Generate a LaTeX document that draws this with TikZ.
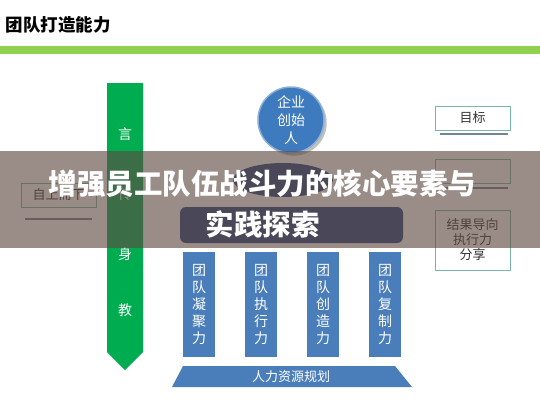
\documentclass[tikz,border=0pt]{standalone}
\usepackage{fontspec}
\setmainfont{Noto Sans CJK SC}
\usetikzlibrary{shadows}
\definecolor{barGreen}{RGB}{146,208,80}
\definecolor{arrowGreen}{RGB}{0,172,80}
\definecolor{colBlue}{RGB}{74,126,187}
\definecolor{circBlue}{RGB}{62,122,190}
\definecolor{deepBlue}{RGB}{40,70,130}
\definecolor{boxTeal}{RGB}{120,185,165}
\definecolor{lineGray}{RGB}{120,132,150}
\definecolor{veil}{RGB}{95,73,65}
\tikzset{
  column/.style = {fill=colBlue, text=white, minimum width=32pt, minimum height=105pt,
    align=center, font=\fontsize{14}{17}\selectfont},
  tagbox/.style = {draw=boxTeal, fill=white, line width=.8pt, minimum width=75pt,
    minimum height=24pt, align=center, text=black!80, font=\fontsize{13}{16}\selectfont},
  shadeline/.style = {lineGray, line width=1.6pt}
}
\begin{document}
\begin{tikzpicture}[x = 1pt, y = -1pt]
  \useasboundingbox (0,0) rectangle (540,400);
  \node[anchor=west, font=\fontsize{17.5}{18}\selectfont\bfseries] (heading) at (2,25) {团队打造能力};
  \fill[barGreen] (0,46) rectangle (540,54); % green rule under heading
  % arrow on the left
  \fill[arrowGreen] (107,83) -- (143,83) -- (143,352) -- (125,370) -- (107,352) -- cycle;
  \foreach \ch/\yy [count=\i] in {言/134, 传/194, 身/254, 教/310}
    \node[text=white, font=\fontsize{14}{14}\selectfont] (word\i) at (125,\yy) {\ch};
  % dark shapes under the founder circle
  \fill[deepBlue] (283,180) ellipse [x radius=50, y radius=17];
  \node[fill=deepBlue, rounded corners=6pt, minimum width=223pt, minimum height=36pt] (core) at (291.5,225) {};
  \node[circle, minimum size=66pt, fill=circBlue, draw=circBlue!60!white, line width=1.5pt,
    drop shadow, text=white, align=center, font=\fontsize{14}{18}\selectfont] (founder) at (291,120) {企业\\创始\\人};
  % the four columns
  \node[column] (unity)    at (199,304.5) {团\\队\\凝\\聚\\力};
  \node[column] (execute)  at (261,304.5) {团\\队\\执\\行\\力};
  \node[column] (create)   at (323,304.5) {团\\队\\创\\造\\力};
  \node[column] (copy)     at (385,304.5) {团\\队\\复\\制\\力};
  \fill[colBlue] (183,366) -- (395,366) -- (412,387) -- (172,387) -- cycle; % base
  \node[text=white, font=\fontsize{13}{13}\selectfont] (plan) at (291,377) {人力资源规划};
  % boxes at the sides
  \node[tagbox] (goal) at (472.5,118) {目标};
  \draw[shadeline] (440,134) -- (508,134);
  \node[tagbox] (agree) at (472.5,171.5) {};
  \draw[shadeline] (440,188) -- (508,188);
  \node[tagbox, minimum height=60pt, font=\fontsize{13}{15}\selectfont] (result) at (472.5,240) {结果导向\\执行力\\分享};
  \node[tagbox] (topdown) at (58.5,195) {自上而下};
  \draw[shadeline] (25,219) -- (92,219);
  % veil and caption
  \fill[veil, opacity=.63] (0,151) rectangle (540,248);
  \node[text=white, align=center, font=\fontsize{28.5}{41}\selectfont\bfseries] (caption) at (262.5,204) {增强员工队伍战斗力的核心要素与\\实践探索};
\end{tikzpicture}
\end{document}
